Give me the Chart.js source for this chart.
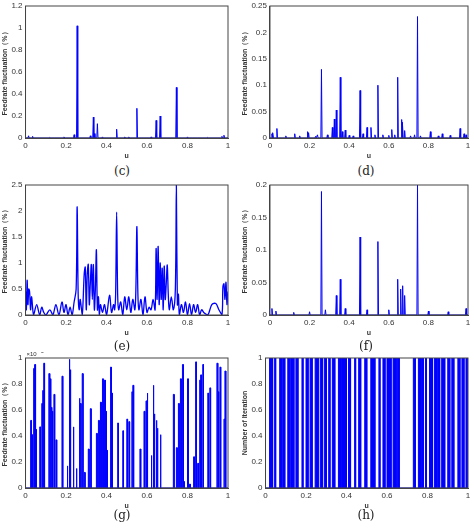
<!DOCTYPE html>
<html lang="en">
<head>
  <meta charset="UTF-8">
  <title>Feedrate fluctuation panels</title>
  <script src="https://cdn.jsdelivr.net/npm/chart.js"></script>
  <style>
    body { margin: 0; background: #fff; font-family: Arial, sans-serif; }
    .panel { position: absolute; }
    .cap { position: absolute; font-family: "DejaVu Serif", serif; font-size: 12px; color: #222; text-align: center; width: 40px; }
  </style>
</head>
<body>
  <div class="panel" style="left:0;top:0;width:234px;height:160px"><canvas id="c"></canvas></div>
  <div class="panel" style="left:240px;top:0;width:234px;height:160px"><canvas id="d"></canvas></div>
  <div class="panel" style="left:0;top:179px;width:234px;height:158px"><canvas id="e"></canvas></div>
  <div class="panel" style="left:240px;top:179px;width:234px;height:158px"><canvas id="f"></canvas></div>
  <div class="panel" style="left:0;top:352px;width:234px;height:158px"><canvas id="g"></canvas></div>
  <div class="panel" style="left:240px;top:352px;width:234px;height:158px"><canvas id="h"></canvas></div>
  <div class="cap" style="left:102px;top:164px">(c)</div>
  <div class="cap" style="left:346px;top:164px">(d)</div>
  <div class="cap" style="left:102px;top:339px">(e)</div>
  <div class="cap" style="left:346px;top:339px">(f)</div>
  <div class="cap" style="left:102px;top:508px">(g)</div>
  <div class="cap" style="left:346px;top:508px">(h)</div>

  <script>
    // (c) spikes
    const cU = [0.015, 0.035, 0.12, 0.19, 0.24, 0.255, 0.32, 0.335, 0.34, 0.355, 0.38, 0.45, 0.49, 0.51, 0.55, 0.62, 0.645, 0.665, 0.745, 0.8, 0.9, 0.97, 0.98];
    const cH = [0.02, 0.015, 0.005, 0.01, 0.03, 1.02, 0.02, 0.19, 0.04, 0.13, 0.01, 0.08, 0.01, 0.01, 0.27, 0.01, 0.16, 0.2, 0.46, 0.01, 0.005, 0.015, 0.025];

    // (d) spikes
    const dU = [0.01, 0.015, 0.035, 0.08, 0.125, 0.15, 0.19, 0.195, 0.23, 0.24, 0.26, 0.29, 0.315, 0.325, 0.335, 0.355, 0.365, 0.38, 0.4, 0.42, 0.455, 0.47, 0.49, 0.51, 0.53, 0.545, 0.57, 0.6, 0.615, 0.63, 0.645, 0.665, 0.67, 0.68, 0.71, 0.73, 0.745, 0.76, 0.81, 0.85, 0.87, 0.91, 0.96, 0.98, 0.99];
    const dH = [0.008, 0.01, 0.018, 0.004, 0.008, 0.004, 0.012, 0.01, 0.003, 0.006, 0.13, 0.006, 0.02, 0.036, 0.053, 0.115, 0.012, 0.015, 0.005, 0.004, 0.09, 0.008, 0.02, 0.02, 0.006, 0.1, 0.006, 0.005, 0.016, 0.006, 0.115, 0.035, 0.03, 0.014, 0.004, 0.006, 0.23, 0.004, 0.012, 0.004, 0.008, 0.005, 0.018, 0.008, 0.006];

    // (e) curve
    const eU = [0, 0.004, 0.008, 0.012, 0.016, 0.02, 0.025, 0.03, 0.04, 0.055, 0.07, 0.08, 0.09, 0.1, 0.12, 0.135, 0.15, 0.165, 0.18, 0.19, 0.2, 0.21, 0.22, 0.23, 0.24, 0.25, 0.255, 0.26, 0.265, 0.27, 0.28, 0.29, 0.295, 0.3, 0.305, 0.31, 0.315, 0.32, 0.325, 0.33, 0.335, 0.34, 0.345, 0.35, 0.355, 0.36, 0.365, 0.37, 0.38, 0.39, 0.4, 0.415, 0.425, 0.435, 0.44, 0.445, 0.45, 0.455, 0.46, 0.47, 0.48, 0.49, 0.5, 0.51, 0.52, 0.53, 0.54, 0.545, 0.55, 0.555, 0.56, 0.57, 0.58, 0.59, 0.6, 0.61, 0.62, 0.63, 0.64, 0.645, 0.65, 0.655, 0.66, 0.665, 0.67, 0.675, 0.68, 0.685, 0.69, 0.695, 0.7, 0.705, 0.71, 0.72, 0.73, 0.74, 0.745, 0.75, 0.755, 0.76, 0.77, 0.78, 0.79, 0.8, 0.81, 0.82, 0.83, 0.84, 0.85, 0.86, 0.87, 0.88, 0.9, 0.92, 0.94, 0.955, 0.97, 0.975, 0.98, 0.985, 0.99, 0.995, 1];
    const eY = [0.45, 0.1, 0.67, 0.2, 0.5, 0.45, 0.1, 0.35, 0, 0.2, 0, 0.15, 0.05, 0, 0.1, 0, 0.2, 0, 0.25, 0.05, 0.2, 0, 0.15, 0, 0.25, 0.5, 2.08, 0.4, 0.1, 0.3, 0, 0.8, 0.92, 0.1, 0.8, 0.97, 0.2, 0.6, 0.97, 0.3, 0.97, 0.1, 0.5, 1.25, 0.1, 0.35, 0, 0.2, 0.05, 0.2, 0, 0.38, 0.05, 0.2, 0.1, 0.4, 1.98, 0.4, 0.1, 0.25, 0, 0.35, 0.1, 0.35, 0.05, 0.3, 0.1, 0.5, 1.7, 0.4, 0.1, 0.3, 0, 0.35, 0.05, 0.15, 0.1, 0.3, 0.1, 1.28, 0.3, 1.32, 0.2, 1.0, 0.3, 0.9, 0.1, 0.94, 0.3, 0.6, 0.96, 0.4, 0.1, 0.35, 0.1, 0.5, 2.5, 0.2, 0.4, 0, 0.2, 0.05, 0.25, 0, 0.22, 0, 0.2, 0.05, 0.2, 0, 0.1, 0.05, 0, 0.2, 0.22, 0.1, 0, 0.55, 0.6, 0.3, 0.63, 0.2, 0.45];

    // (f) spikes
    const fU = [0.01, 0.03, 0.12, 0.2, 0.26, 0.28, 0.335, 0.355, 0.38, 0.455, 0.49, 0.545, 0.6, 0.645, 0.66, 0.67, 0.68, 0.745, 0.8, 0.9, 0.99];
    const fH = [0.01, 0.006, 0.004, 0.005, 0.19, 0.008, 0.03, 0.055, 0.01, 0.12, 0.008, 0.113, 0.008, 0.055, 0.04, 0.045, 0.03, 0.2, 0.006, 0.005, 0.01];

    // (g) bars, ×10^-6
    const gU = [0.025, 0.03, 0.04, 0.045, 0.05, 0.07, 0.08, 0.085, 0.09, 0.115, 0.12, 0.125, 0.13, 0.14, 0.15, 0.18, 0.205, 0.215, 0.22, 0.235, 0.25, 0.265, 0.27, 0.28, 0.29, 0.31, 0.32, 0.35, 0.36, 0.37, 0.38, 0.39, 0.395, 0.4, 0.42, 0.425, 0.455, 0.48, 0.5, 0.51, 0.525, 0.53, 0.565, 0.585, 0.595, 0.6, 0.62, 0.63, 0.635, 0.645, 0.65, 0.665, 0.73, 0.745, 0.755, 0.765, 0.775, 0.78, 0.8, 0.81, 0.83, 0.84, 0.85, 0.86, 0.865, 0.875, 0.9, 0.91, 0.945, 0.95, 0.96, 0.98, 0.985];
    const gH = [0.52, 0.41, 0.92, 0.95, 0.45, 0.47, 0.65, 0.75, 0.96, 0.88, 0.84, 0.62, 0.59, 0.72, 0.37, 0.86, 0.17, 0.99, 0.91, 0.47, 0.15, 0.69, 0.65, 0.88, 0.12, 0.3, 0.61, 0.42, 0.52, 0.66, 0.84, 0.83, 0.59, 0.29, 0.93, 0.73, 0.5, 0.44, 0.53, 0.51, 0.74, 0.79, 0.3, 0.59, 0.67, 0.73, 0.25, 0.79, 0.57, 0.52, 0.46, 0.41, 0.72, 0.31, 0.65, 0.84, 0.95, 0.05, 0.84, 0.03, 0.24, 0.97, 0.19, 0.83, 0.87, 0.95, 0.73, 0.77, 0.96, 0.74, 0.93, 0.53, 0.9];

    // (h) intervals where iteration count is 1
    const hStart = [0.02, 0.045, 0.07, 0.085, 0.11, 0.125, 0.15, 0.18, 0.2, 0.22, 0.245, 0.27, 0.29, 0.312, 0.33, 0.36, 0.375, 0.41, 0.44, 0.46, 0.49, 0.52, 0.56, 0.58, 0.6, 0.63, 0.65, 0.73, 0.755, 0.77, 0.79, 0.81, 0.835, 0.85, 0.87, 0.9, 0.92, 0.95, 0.97, 0.99];
    const hEnd = [0.035, 0.05, 0.08, 0.095, 0.12, 0.14, 0.16, 0.185, 0.21, 0.23, 0.26, 0.28, 0.3, 0.318, 0.342, 0.37, 0.4, 0.42, 0.445, 0.47, 0.5, 0.54, 0.565, 0.59, 0.62, 0.645, 0.66, 0.74, 0.765, 0.78, 0.795, 0.825, 0.845, 0.86, 0.885, 0.91, 0.93, 0.96, 0.98, 1];

    function spikes(us, hs, w) {
      const pts = [{ x: 0, y: 0 }];
      us.forEach((u, i) => {
        pts.push({ x: u - w, y: 0 }, { x: u, y: hs[i] }, { x: u + w, y: 0 });
      });
      pts.push({ x: 1, y: 0 });
      return pts;
    }
    function bars(us, hs, w) {
      const pts = [{ x: 0, y: 0 }];
      us.forEach((u, i) => {
        pts.push({ x: u, y: 0 }, { x: u, y: hs[i] }, { x: u + w, y: hs[i] }, { x: u + w, y: 0 });
      });
      pts.push({ x: 1, y: 0 });
      return pts;
    }

    const tickFont = { size: 8, family: 'Arial' };
    const titleFont = { size: 7, family: 'Arial', weight: 'bold' };

    function panel(id, pts, yMax, yStep, yTitle, opts) {
      opts = opts || {};
      new Chart(document.getElementById(id), {
        type: 'line',
        data: {
          datasets: [{
            data: pts,
            borderColor: '#0000ff',
            backgroundColor: '#0000ff',
            borderWidth: opts.width || 1,
            pointRadius: 0,
            fill: opts.fill ? 'origin' : false,
            tension: opts.smooth ? 0.35 : 0
          }]
        },
        options: {
          responsive: true,
          maintainAspectRatio: false,
          animation: false,
          layout: { padding: { top: 6, right: 6 } },
          plugins: { legend: { display: false }, tooltip: { enabled: false } },
          scales: {
            x: {
              type: 'linear', min: 0, max: 1,
              grid: { display: false, tickLength: 2 },
              border: { color: '#444' },
              ticks: { stepSize: 0.2, font: tickFont, color: '#333', padding: 1,
                       callback: v => +v.toFixed(1) },
              title: { display: true, text: 'u', font: titleFont, color: '#333', padding: 0 }
            },
            y: {
              min: 0, max: yMax,
              grid: { display: false, tickLength: 2 },
              border: { color: '#444' },
              ticks: { stepSize: yStep, font: tickFont, color: '#333', padding: 1,
                       callback: v => +v.toFixed(2) },
              title: { display: true, text: yTitle, font: titleFont, color: '#333', padding: 1 }
            }
          }
        },
        plugins: [{
          id: 'frame',
          afterDraw(chart) {
            const { ctx, chartArea: a } = chart;
            ctx.save();
            ctx.strokeStyle = '#444';
            ctx.lineWidth = 1;
            ctx.strokeRect(a.left, a.top, a.right - a.left, a.bottom - a.top);
            if (opts.exp) {
              ctx.fillStyle = '#333';
              ctx.font = '6px Arial';
              ctx.fillText('×10', a.left + 1, a.top - 2);
              ctx.fillText('-6', a.left + 13, a.top - 5);
            }
            ctx.restore();
          }
        }]
      });
    }

    const ylab = 'Feedrate fluctuation（%）';
    panel('c', spikes(cU, cH, 0.003), 1.2, 0.2, ylab);
    panel('d', spikes(dU, dH, 0.003), 0.25, 0.05, ylab);
    panel('e', eU.map((u, i) => ({ x: u, y: eY[i] })), 2.5, 0.5, ylab, { width: 1.3, smooth: true });
    panel('f', spikes(fU, fH, 0.003), 0.2, 0.05, ylab);
    panel('g', bars(gU, gH, 0.004), 1, 0.2, ylab, { exp: true });
    const hPts = [{ x: 0, y: 0 }];
    hStart.forEach((s, i) => {
      hPts.push({ x: s, y: 0 }, { x: s, y: 1 }, { x: hEnd[i], y: 1 }, { x: hEnd[i], y: 0 });
    });
    hPts.push({ x: 1, y: 0 });
    panel('h', hPts, 1, 0.2, 'Number of Iteration', { fill: true });
  </script>
</body>
</html>
